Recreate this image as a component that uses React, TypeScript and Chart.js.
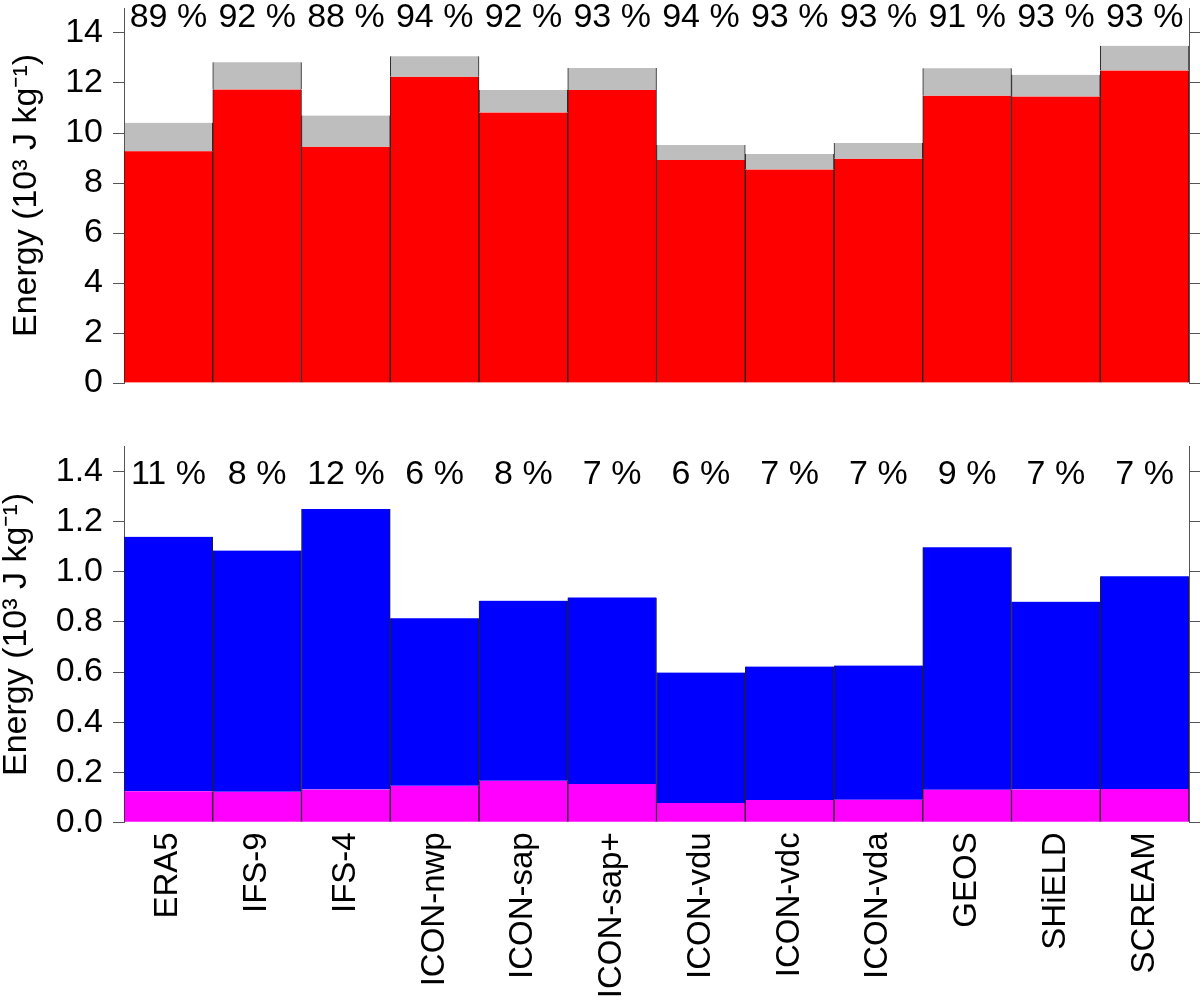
import { useEffect, useRef } from "react";
import { Chart, registerables } from "chart.js";

Chart.register(...registerables);

const FONT = "'Liberation Sans', Arial, Helvetica, sans-serif";
Chart.defaults.font.family = FONT;
Chart.defaults.color = "#000";

const MODELS = [
  "ERA5", "IFS-9", "IFS-4", "ICON-nwp", "ICON-sap", "ICON-sap+",
  "ICON-vdu", "ICON-vdc", "ICON-vda", "GEOS", "SHiELD", "SCREAM",
];

// upper panel: red part and full bar height (red + grey)
const UPPER_RED = [9.27, 11.74, 9.45, 12.25, 10.82, 11.72, 8.92, 8.54, 8.97, 11.49, 11.46, 12.5];
const UPPER_TOTAL = [10.41, 12.83, 10.7, 13.07, 11.72, 12.6, 9.52, 9.16, 9.6, 12.59, 12.33, 13.49];
const UPPER_PCT = [89, 92, 88, 94, 92, 93, 94, 93, 93, 91, 93, 93];
const UPPER_TICKS = [0, 2, 4, 6, 8, 10, 12, 14];

// lower panel: magenta part and full bar height (magenta + blue)
const LOWER_MAGENTA = [0.124, 0.122, 0.131, 0.146, 0.166, 0.153, 0.077, 0.089, 0.09, 0.13, 0.131, 0.133];
const LOWER_TOTAL = [1.14, 1.085, 1.251, 0.815, 0.885, 0.898, 0.598, 0.622, 0.626, 1.098, 0.881, 0.983];
const LOWER_PCT = [11, 8, 12, 6, 8, 7, 6, 7, 7, 9, 7, 7];
const LOWER_TICKS = [0, 0.2, 0.4, 0.6, 0.8, 1.0, 1.2, 1.4];

const AXIS_GREY = "#555";
const BAR_EDGE = "#222";

const percentPlugin = {
  id: "percentLabels",
  afterDatasetsDraw(chart: any, _args: any, opts: any) {
    const { ctx, scales } = chart;
    ctx.save();
    ctx.font = `34px ${FONT}`;
    ctx.fillStyle = "#000";
    ctx.textAlign = "center";
    ctx.textBaseline = "alphabetic";
    const y = scales.y.getPixelForValue(opts.at);
    opts.values.forEach((v: number, i: number) => {
      ctx.fillText(`${v} %`, scales.x.getPixelForValue(i), y);
    });
    ctx.restore();
  },
};

type PanelProps = {
  top: number;
  height: number;
  padTop: number;
  padBottom: number;
  max: number;
  ticks: number[];
  decimals: number;
  lower: number[];
  total: number[];
  lowerColor: string;
  upperColor: string;
  pct: number[];
  pctAt: number;
  showX: boolean;
  xHeight: number;
  titlePad: number;
};

function Panel(p: PanelProps) {
  const canvasRef = useRef<HTMLCanvasElement>(null);
  const chartRef = useRef<Chart | null>(null);

  useEffect(() => {
    if (!canvasRef.current) return;
    if (chartRef.current) chartRef.current.destroy();
    const ctx = canvasRef.current.getContext("2d");
    if (!ctx) return;

    const edge = { left: 1, right: 1, top: 0, bottom: 0 };
    const setTicks = (scale: any) => {
      scale.ticks = p.ticks.map((v) => ({ value: v }));
    };

    chartRef.current = new Chart(ctx, {
      type: "bar",
      data: {
        labels: MODELS,
        datasets: [
          {
            data: p.lower,
            backgroundColor: p.lowerColor,
            borderColor: BAR_EDGE,
            borderWidth: edge,
            borderSkipped: false,
            grouped: false,
            barPercentage: 1,
            categoryPercentage: 1,
          },
          {
            data: p.lower.map((v, i) => [v, p.total[i]]),
            backgroundColor: p.upperColor,
            borderColor: BAR_EDGE,
            borderWidth: edge,
            borderSkipped: false,
            grouped: false,
            barPercentage: 1,
            categoryPercentage: 1,
          },
        ] as any,
      },
      plugins: [percentPlugin],
      options: {
        animation: false,
        responsive: true,
        maintainAspectRatio: false,
        layout: { padding: { top: p.padTop, bottom: p.padBottom, left: 0, right: 0 } },
        plugins: {
          legend: { display: false },
          tooltip: { enabled: false },
          percentLabels: { values: p.pct, at: p.pctAt },
        } as any,
        scales: {
          x: {
            display: p.showX,
            grid: { display: false },
            border: { display: false },
            ticks: {
              autoSkip: false,
              minRotation: 90,
              maxRotation: 90,
              padding: 2,
              color: "#000",
              font: { size: 33 },
            },
            afterFit: (scale: any) => {
              scale.height = p.xHeight;
              scale.paddingLeft = 0;
              scale.paddingRight = 0;
            },
          },
          y: {
            position: "left",
            min: 0,
            max: p.max,
            afterBuildTicks: setTicks,
            grid: { drawOnChartArea: false, drawTicks: true, tickLength: 11, color: AXIS_GREY, lineWidth: 1 },
            border: { display: true, color: AXIS_GREY, width: 1 },
            ticks: {
              padding: 10,
              color: "#000",
              font: { size: 34 },
              callback: (v: any) => Number(v).toFixed(p.decimals),
            },
            title: {
              display: true,
              text: "Energy (10³ J kg⁻¹)",
              color: "#000",
              font: { size: 34, lineHeight: 0.8 },
              padding: { top: p.titlePad, bottom: 0 },
            },
            afterFit: (scale: any) => {
              scale.width = 124;
              scale.paddingTop = 0;
              scale.paddingBottom = 0;
            },
          },
          yRight: {
            position: "right",
            min: 0,
            max: p.max,
            afterBuildTicks: setTicks,
            grid: { drawOnChartArea: false, drawTicks: true, tickLength: 11, color: AXIS_GREY, lineWidth: 1 },
            border: { display: true, color: AXIS_GREY, width: 1 },
            ticks: { display: false },
            afterFit: (scale: any) => {
              scale.width = 11;
              scale.paddingTop = 0;
              scale.paddingBottom = 0;
            },
          },
        },
      } as any,
    });

    return () => {
      if (chartRef.current) {
        chartRef.current.destroy();
        chartRef.current = null;
      }
    };
  }, []);

  return (
    <div style={{ position: "absolute", left: 0, top: p.top, width: 1200, height: p.height }}>
      <canvas ref={canvasRef}></canvas>
    </div>
  );
}

export default function App() {
  return (
    <div style={{ position: "absolute", left: 0, top: 0, width: 1200, height: 1002, background: "#fff" }}>
      <Panel
        top={0}
        height={420}
        padTop={8}
        padBottom={37}
        max={15}
        ticks={UPPER_TICKS}
        decimals={0}
        lower={UPPER_RED}
        total={UPPER_TOTAL}
        lowerColor="#ff0000"
        upperColor="#bebebe"
        pct={UPPER_PCT}
        pctAt={14.24}
        showX={false}
        xHeight={0}
        titlePad={13}
      />
      <Panel
        top={400}
        height={602}
        padTop={46.7}
        padBottom={0}
        max={1.5}
        ticks={LOWER_TICKS}
        decimals={1}
        lower={LOWER_MAGENTA}
        total={LOWER_TOTAL}
        lowerColor="#ff00ff"
        upperColor="#0000ff"
        pct={LOWER_PCT}
        pctAt={1.351}
        showX={true}
        xHeight={179.7}
        titlePad={3}
      />
    </div>
  );
}
